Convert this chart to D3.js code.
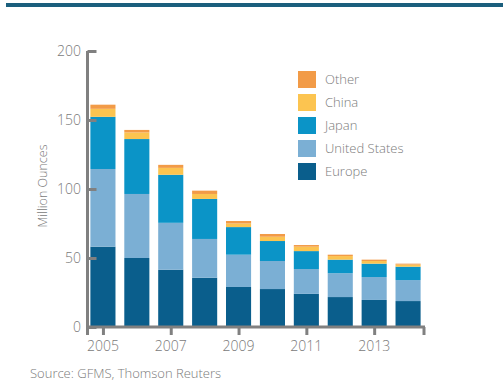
<!DOCTYPE html>
<html>
<head>
<meta charset="utf-8">
<script src="https://cdn.jsdelivr.net/npm/d3@7/dist/d3.min.js"></script>
<style>
  body { margin: 0; background: #fff; }
  svg { display: block; font-family: "Open Sans", "DejaVu Sans", sans-serif; }
  .lbl { fill: #7a7a7a; font-weight: 300; }
</style>
</head>
<body>
<script>
  // values in million ounces
  const years = [2005, 2006, 2007, 2008, 2009, 2010, 2011, 2012, 2013, 2014];
  const europe = [58.2, 50, 41.5, 35.7, 29, 27.5, 24, 21.7, 19.6, 18.8];
  const unitedStates = [56.3, 46.4, 34, 28.1, 23.4, 20.3, 18, 17.3, 16.6, 15.2];
  const japan = [37.8, 39.8, 34.8, 29, 20, 14.5, 13, 9.8, 9.7, 9.7];
  const china = [5.8, 4.8, 5, 3.6, 2.6, 3.1, 3.2, 2.6, 1.9, 1.5];
  const other = [3, 1.8, 2.2, 2.4, 1.8, 2, 1.2, 1, 1, 0.7];
  const yTicks = [0, 50, 100, 150, 200];
  const xTickYears = [2005, 2007, 2009, 2011, 2013];

  const seriesNames = ["Europe", "United States", "Japan", "China", "Other"];
  const seriesValues = [europe, unitedStates, japan, china, other];
  const colors = ["#0a5e8c", "#7bafd4", "#0b94c7", "#fcc450", "#f29b47"];

  const W = 503, H = 391;
  const rows = years.map((y, i) => {
    const r = { year: y };
    seriesNames.forEach((n, k) => r[n] = seriesValues[k][i]);
    return r;
  });
  const stack = d3.stack().keys(seriesNames)(rows);

  const svg = d3.select("body").append("svg").attr("width", W).attr("height", H);

  // top rule
  svg.append("rect").attr("x", 6).attr("y", 3).attr("width", W - 6).attr("height", 4).attr("fill", "#1b5f7d");

  const x = d3.scaleBand().domain(years).range([87, 424]).paddingInner(0.26).paddingOuter(0.1);
  const y = d3.scaleLinear().domain([0, 200]).range([327, 51]);

  svg.append("g").selectAll("g")
    .data(stack)
    .join("g")
    .attr("fill", (d, i) => colors[i])
    .selectAll("rect")
    .data(d => d)
    .join("rect")
    .attr("x", d => x(d.data.year))
    .attr("width", x.bandwidth())
    .attr("y", d => y(d[1]))
    .attr("height", d => y(d[0]) - y(d[1]));

  const axisColor = "#808080";
  // y axis
  const yAxis = svg.append("g").attr("transform", "translate(87.5,0)")
    .call(d3.axisRight(y).tickValues(yTicks).tickSize(9).tickFormat(""));
  yAxis.select(".domain").attr("d", "M0," + y(200) + "V" + (y(0) + 8));
  yAxis.selectAll("line, path").attr("stroke", axisColor).attr("stroke-width", 3);

  svg.append("g").selectAll("text")
    .data(yTicks)
    .join("text")
    .attr("class", "lbl")
    .attr("x", 81)
    .attr("y", d => y(d))
    .attr("dy", "0.36em")
    .attr("text-anchor", "end")
    .attr("font-size", 14)
    .text(d => d);

  // x axis
  const xPos = d3.scaleLinear().domain([2005, 2014]).range([x(2005) + x.bandwidth() / 2, x(2014) + x.bandwidth() / 2]);
  const xAxis = svg.append("g").attr("transform", "translate(0,327)")
    .call(d3.axisBottom(xPos).tickValues(xTickYears).tickSize(8).tickFormat(""));
  xAxis.select(".domain").attr("d", "M86,0H425");
  xAxis.append("line").attr("x1", 424).attr("x2", 424).attr("y1", 0).attr("y2", 8);
  xAxis.selectAll("line, path").attr("stroke", axisColor).attr("stroke-width", 3);

  svg.append("g").selectAll("text")
    .data(xTickYears)
    .join("text")
    .attr("class", "lbl")
    .attr("x", d => xPos(d))
    .attr("y", 351)
    .attr("text-anchor", "middle")
    .attr("font-size", 14)
    .text(d => d);

  // y title
  svg.append("text")
    .attr("class", "lbl")
    .attr("transform", "translate(47,186) rotate(-90)")
    .attr("text-anchor", "middle")
    .attr("font-size", 12.5)
    .text("Million Ounces");

  // legend, top entry first
  const legend = svg.append("g").attr("transform", "translate(298,71)");
  const legendOrder = seriesNames.slice().reverse();
  const item = legend.selectAll("g")
    .data(legendOrder)
    .join("g")
    .attr("transform", (d, i) => "translate(0," + i * 23 + ")");
  item.append("rect").attr("width", 18).attr("height", 17)
    .attr("fill", d => colors[seriesNames.indexOf(d)]);
  item.append("text").attr("class", "lbl")
    .attr("x", 27).attr("y", 8.5).attr("dy", "0.36em")
    .attr("font-size", 13)
    .text(d => d);

  // source
  svg.append("text")
    .attr("class", "lbl")
    .attr("x", 30).attr("y", 378)
    .attr("font-size", 13)
    .text("Source: GFMS, Thomson Reuters");
</script>
</body>
</html>
